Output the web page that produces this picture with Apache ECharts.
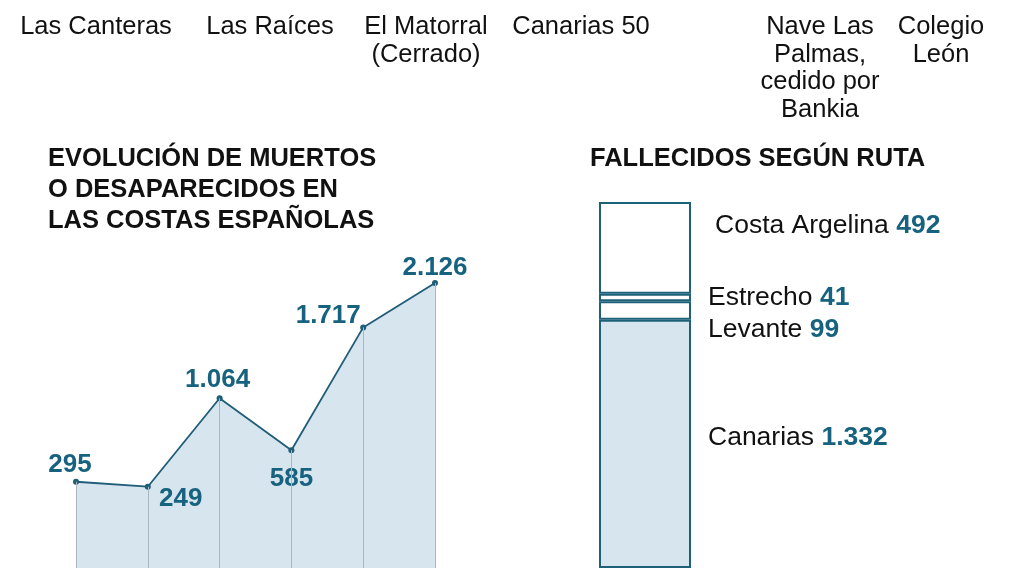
<!DOCTYPE html>
<html>
<head>
<meta charset="utf-8">
<script src="https://cdn.jsdelivr.net/npm/echarts@6/dist/echarts.min.js"></script>
<style>
html,body{margin:0;padding:0;background:#fff;}
#c{width:1009px;height:568px;}
</style>
</head>
<body>
<div id="c"></div>
<script>
// ---- data ----
const years = ['2014', '2015', '2016', '2017', '2018', '2019'];
const deaths = [295, 249, 1064, 585, 1717, 2126];
const deathLabels = ['295', '249', '1.064', '585', '1.717', '2.126'];

const routes = ['Canarias', 'Levante', 'Estrecho', 'Costa Argelina'];
const routeValues = [1332, 99, 41, 492];
const routeLabels = ['1.332', '99', '41', '492'];

const topLabels = ['Las Canteras', 'Las Raíces', 'El Matorral\n(Cerrado)', 'Canarias 50', 'Nave Las\nPalmas,\ncedido por\nBankia', 'Colegio\nLeón'];

const titleLeft = 'EVOLUCIÓN DE MUERTOS\nO DESAPARECIDOS EN\nLAS COSTAS ESPAÑOLAS';
const titleRight = 'FALLECIDOS SEGÚN RUTA';

// ---- styles ----
const TEAL = '#17627f';
const LINE = '#1f5d78';
const AREA = '#d7e5ee';
const BORDER = '#1d6179';
const FONT = '"Liberation Sans", Arial, sans-serif';

const chart = echarts.init(document.getElementById('c'));

const labelPos = [
  {position: 'top', offset: [-6, 4]},
  {position: 'bottom', offset: [33, -9]},
  {position: 'top', offset: [-2, 3]},
  {position: 'bottom', offset: [0, 8]},
  {position: 'top', offset: [-35, 9]},
  {position: 'top', offset: [0, 6]}
];

const topX = [96, 270, 426, 581, 820, 941];

const routeOffsets = [[0, -6], [0, 19], [0, 0], [7, -22]];

const barSeries = routes.map((r, i) => ({
  type: 'bar',
  name: r,
  stack: 'ruta',
  xAxisIndex: 1,
  yAxisIndex: 1,
  barWidth: 92,
  data: [routeValues[i]],
  itemStyle: {color: i === 0 ? AREA : '#ffffff', borderColor: BORDER, borderWidth: 2},
  label: {
    show: true,
    position: 'right',
    distance: 17,
    offset: routeOffsets[i],
    formatter: () => '{n|' + r + ' }{v|' + routeLabels[i] + '}',
    rich: {
      n: {fontFamily: FONT, fontSize: 26.5, color: '#111', fontWeight: 400},
      v: {fontFamily: FONT, fontSize: 26.5, color: TEAL, fontWeight: 700}
    }
  },
  silent: true
}));

const option = {
  animation: false,
  backgroundColor: '#fff',
  grid: [
    {left: 76, width: 359, top: 275, bottom: -3},
    {left: 599, width: 92, top: 202, bottom: -9}
  ],
  xAxis: [
    {type: 'category', gridIndex: 0, data: years, boundaryGap: false, show: false},
    {type: 'category', gridIndex: 1, data: ['ruta'], show: false}
  ],
  yAxis: [
    {type: 'value', gridIndex: 0, min: -500, max: 2200, show: false},
    {type: 'value', gridIndex: 1, min: 0, max: 1964, show: false}
  ],
  series: [
    {
      type: 'line',
      xAxisIndex: 0,
      yAxisIndex: 0,
      data: deaths.map((v, i) => ({
        value: v,
        label: Object.assign({
          show: true,
          formatter: deathLabels[i],
          color: TEAL,
          fontFamily: FONT,
          fontSize: 26,
          fontWeight: 700
        }, labelPos[i])
      })),
      symbol: 'circle',
      symbolSize: 6,
      showAllSymbol: true,
      lineStyle: {color: LINE, width: 1.8},
      itemStyle: {color: LINE},
      areaStyle: {color: AREA, opacity: 1, origin: 'start'},
      markLine: {
        silent: true,
        symbol: ['none', 'none'],
        lineStyle: {color: '#a9b7c1', width: 1, type: 'solid'},
        label: {show: false},
        emphasis: {disabled: true},
        data: deaths.map((v, i) => [{coord: [i, v]}, {coord: [i, -500]}])
      },
      silent: true,
      z: 3
    }
  ].concat(barSeries),
  graphic: [
    {
      type: 'text', left: 48, top: 143,
      style: {text: titleLeft, fontFamily: FONT, fontSize: 25.5, fontWeight: 700, fill: '#111', lineHeight: 31}
    },
    {
      type: 'text', left: 590, top: 143,
      style: {text: titleRight, fontFamily: FONT, fontSize: 25.5, fontWeight: 700, fill: '#111', lineHeight: 31}
    }
  ].concat(topLabels.map((t, i) => ({
    type: 'text', x: topX[i], y: 13,
    style: {text: t, fontFamily: FONT, fontSize: 25.5, fill: '#111', align: 'center', verticalAlign: 'top', lineHeight: 27.7}
  })))
};

chart.setOption(option);
</script>
</body>
</html>
